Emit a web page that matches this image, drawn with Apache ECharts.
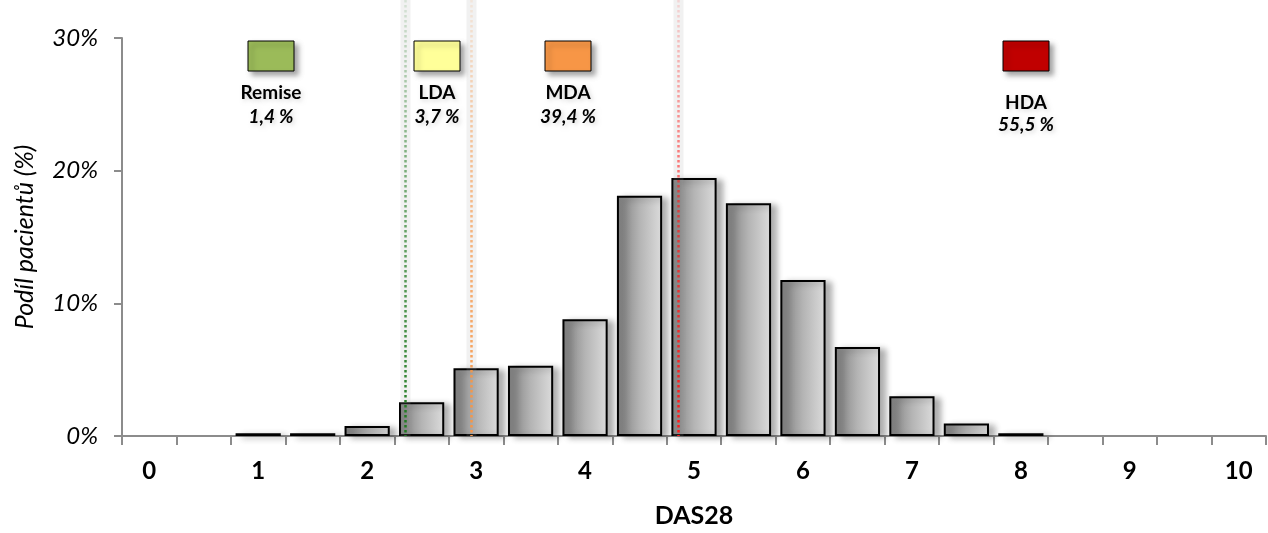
<!DOCTYPE html>
<html>
<head>
<meta charset="utf-8">
<style>
  html, body { margin: 0; padding: 0; background: #ffffff; }
  #chart { width: 1268px; height: 533px; }
</style>
<script src="https://cdn.jsdelivr.net/npm/echarts@6/dist/echarts.min.js"></script>
</head>
<body>
<div id="chart"></div>
<script>
// DAS28 bins (step 0.5) and share of patients in each bin, in percent (null = empty bin)
const categories = ['0','0.5','1','1.5','2','2.5','3','3.5','4','4.5','5','5.5','6','6.5','7','7.5','8','8.5','9','9.5','10'];
const shares = [null, null, 0.2, 0.2, 0.75, 2.55, 5.1, 5.3, 8.8, 18.1, 19.45, 17.55, 11.75, 6.7, 3.0, 0.95, 0.2, null, null, null, null];

// Activity thresholds on the DAS28 scale
const thresholdValues = [2.6, 3.2, 5.1];
const thresholdColors = ['#1f7a1f', '#f79646', '#ff1a1a'];

// Activity groups with their share of patients
const zoneNames = ['Remise', 'LDA', 'MDA', 'HDA'];
const zoneShares = ['1,4 %', '3,7 %', '39,4 %', '55,5 %'];
const zoneColors = ['#9bbb59', '#ffff99', '#f79646', '#c00000'];

const FONT = 'Lato, "Noto Sans", sans-serif';

// layout of the group key boxes (pixel centres, label offsets)
const keyCenters = [271, 437, 568, 1026];
const keyTextShift = [0, 0, 0, 10];

const chart = echarts.init(document.getElementById('chart'), null, { renderer: 'canvas' });

function hexToRgba(hex, a) {
  const n = parseInt(hex.slice(1), 16);
  return 'rgba(' + ((n >> 16) & 255) + ',' + ((n >> 8) & 255) + ',' + (n & 255) + ',' + a + ')';
}

const keyGraphics = [];
zoneNames.forEach(function (name, i) {
  const cx = keyCenters[i];
  keyGraphics.push({
    type: 'rect',
    shape: { x: cx - 23, y: 41, width: 46, height: 30 },
    style: {
      fill: zoneColors[i], stroke: '#000', lineWidth: 1,
      shadowColor: 'rgba(0,0,0,0.35)', shadowBlur: 5, shadowOffsetX: 4, shadowOffsetY: 4
    },
    z: 10
  });
  keyGraphics.push({
    type: 'text',
    x: cx, y: 93 + keyTextShift[i],
    style: {
      text: name, fill: '#000', font: 'bold 19px ' + FONT,
      align: 'center', verticalAlign: 'middle',
      textShadowColor: 'rgba(0,0,0,0.15)', textShadowBlur: 4, textShadowOffsetX: 2, textShadowOffsetY: 2
    },
    z: 10
  });
  keyGraphics.push({
    type: 'text',
    x: cx, y: 117 + keyTextShift[i] * 0.8,
    style: {
      text: zoneShares[i], fill: '#000', font: 'italic bold 19px ' + FONT,
      align: 'center', verticalAlign: 'middle',
      textShadowColor: 'rgba(0,0,0,0.15)', textShadowBlur: 4, textShadowOffsetX: 2, textShadowOffsetY: 2
    },
    z: 10
  });
});

const option = {
  animation: false,
  backgroundColor: '#ffffff',
  grid: { left: 122, right: 2, top: 38, bottom: 97, containLabel: false, outerBoundsMode: 'none' },
  xAxis: [
    {
      type: 'category',
      data: categories,
      boundaryGap: true,
      name: 'DAS28',
      nameLocation: 'middle',
      nameGap: 67,
      nameTextStyle: { fontFamily: FONT, fontWeight: 'bold', fontSize: 25, color: '#000' },
      axisLine: { lineStyle: { color: '#8c8c8c', width: 2 } },
      axisTick: { show: true, interval: 0, length: 9, lineStyle: { color: '#8c8c8c', width: 2 } },
      axisLabel: {
        interval: 1, margin: 23,
        fontFamily: FONT, fontWeight: 'bold', fontSize: 24, color: '#000'
      },
      splitLine: { show: false }
    },
    {
      // continuous DAS28 scale spanning the same width, for the threshold lines
      type: 'value',
      min: 0,
      max: 10.5,
      show: false
    }
  ],
  yAxis: {
    type: 'value',
    min: 0,
    max: 30,
    interval: 10,
    name: 'Podíl pacientů (%)',
    nameLocation: 'middle',
    nameGap: 85,
    nameTextStyle: { fontFamily: FONT, fontStyle: 'italic', fontSize: 25, color: '#000' },
    axisLine: { show: true, lineStyle: { color: '#8c8c8c', width: 2 } },
    axisTick: { show: true, length: 8, lineStyle: { color: '#8c8c8c', width: 2 } },
    axisLabel: {
      margin: 24,
      formatter: '{value}%',
      fontFamily: FONT, fontStyle: 'italic', fontSize: 24, color: '#000'
    },
    splitLine: { show: false }
  },
  series: [
    {
      type: 'bar',
      data: shares,
      barCategoryGap: '17%',
      itemStyle: {
        color: new echarts.graphic.LinearGradient(0, 0, 1, 0, [
          { offset: 0, color: '#7c7c7c' },
          { offset: 0.5, color: '#b4b4b4' },
          { offset: 1, color: '#dcdcdc' }
        ]),
        borderColor: '#000',
        borderWidth: 2,
        shadowColor: 'rgba(0,0,0,0.3)',
        shadowBlur: 6,
        shadowOffsetX: 6,
        shadowOffsetY: 2
      },
      z: 2
    },
    {
      type: 'custom',
      xAxisIndex: 1,
      yAxisIndex: 0,
      clip: false,
      z: 5,
      data: thresholdValues.map(function (v, i) { return [v, 0, i]; }),
      renderItem: function (params, api) {
        const base = api.coord([api.value(0), 0]);
        const x = Math.round(base[0]) + 0.5;
        const yb = base[1];
        const col = thresholdColors[api.value(2)];
        return {
          type: 'group',
          children: [
            {
              type: 'line',
              shape: { x1: x, y1: 0, x2: x, y2: yb },
              style: { stroke: 'rgba(170,170,170,0.16)', lineWidth: 10 }
            },
            {
              type: 'line',
              shape: { x1: x, y1: 0, x2: x, y2: yb },
              style: {
                stroke: new echarts.graphic.LinearGradient(x, 0, x, yb, [
                  { offset: 0, color: hexToRgba(col, 0.12) },
                  { offset: 0.35, color: hexToRgba(col, 0.55) },
                  { offset: 1, color: hexToRgba(col, 1) }
                ], true),
                lineWidth: 2.5,
                lineDash: [2.5, 2.5]
              }
            }
          ]
        };
      }
    }
  ],
  graphic: keyGraphics
};

chart.setOption(option);
</script>
</body>
</html>
